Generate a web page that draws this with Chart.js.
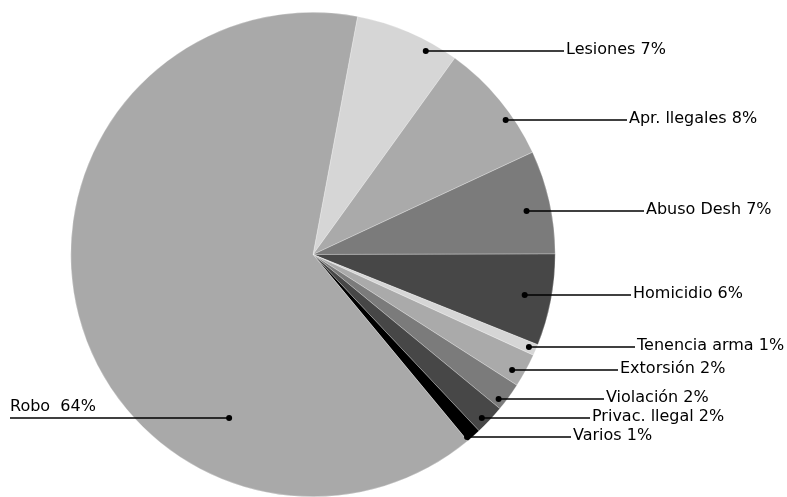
<!DOCTYPE html>
<html>
<head>
<meta charset="utf-8">
<script src="https://cdn.jsdelivr.net/npm/chart.js@4"></script>
<style>
  html, body { margin: 0; padding: 0; background: #fff; }
  #wrap { width: 787px; height: 497px; }
</style>
</head>
<body>
<div id="wrap"><canvas id="pie-chart" width="787" height="497"></canvas></div>
<script>
// data (share of cases, %)
var categories = ['Lesiones', 'Apr. llegales', 'Abuso Desh', 'Homicidio', 'Tenencia arma',
                  'Extorsión', 'Violación', 'Privac. llegal', 'Varios', 'Robo'];
var shares = [7.0, 8.1, 6.9, 6.1, 0.75, 2.25, 1.9, 2.0, 1.0, 63.9];
var shareLabels = ['7%', '8%', '7%', '6%', '1%', '2%', '2%', '2%', '1%', '64%'];

var sliceColors = ['#d6d6d6', '#aaaaaa', '#7b7b7b', '#474747', '#d6d6d6',
                   '#aaaaaa', '#7b7b7b', '#474747', '#000000', '#a9a9a9'];

// where each callout dot sits inside its slice (fraction of the slice angle, fraction of radius)
var dotAngle = [0.73, 0.66, 0.54, 0.5, 0.5, 0.68, 0.75, 0.63, 0.85, 0.29];
var dotRadius = [0.96, 0.97, 0.90, 0.89, 0.97, 0.95, 0.97, 0.97, 0.985, 0.76];
// x where each label text starts (Robo is written on the left)
var labelX = [566, 629, 646, 633, 637, 620, 606, 592, 573, 10];

var FONT = '16px "DejaVu Sans", sans-serif';

var calloutPlugin = {
    id: 'callouts',
    afterDraw: function (chart) {
        var c = chart.ctx;
        var arcs = chart.getDatasetMeta(0).data;
        c.save();
        c.font = FONT;
        c.fillStyle = '#000';
        c.strokeStyle = '#000';
        c.lineWidth = 1.5;
        arcs.forEach(function (arc, i) {
            var p = arc.getProps(['x', 'y', 'startAngle', 'endAngle', 'outerRadius'], true);
            var a = p.startAngle + dotAngle[i] * (p.endAngle - p.startAngle);
            var r = dotRadius[i] * p.outerRadius;
            var dx = p.x + r * Math.cos(a);
            var dy = Math.round(p.y + r * Math.sin(a));
            var text = categories[i] + ' ' + shareLabels[i];

            c.beginPath();
            if (dx > p.x) {
                c.moveTo(dx, dy);
                c.lineTo(labelX[i] - 2, dy);
            } else {
                c.moveTo(labelX[i], dy);
                c.lineTo(dx, dy);
            }
            c.stroke();

            c.beginPath();
            c.arc(dx, dy, 3, 0, Math.PI * 2);
            c.fill();

            if (dx > p.x) {
                c.textBaseline = 'middle';
                c.fillText(text, labelX[i], dy - 1);
            } else {
                c.textBaseline = 'alphabetic';
                c.fillText(categories[i] + '  ' + shareLabels[i], labelX[i], dy - 7);
            }
        });
        c.restore();
    }
};

var ctx = document.getElementById('pie-chart').getContext('2d');
new Chart(ctx, {
    type: 'pie',
    data: {
        labels: categories,
        datasets: [{
            data: shares,
            backgroundColor: sliceColors,
            borderColor: 'rgba(255,255,255,0.45)',
            borderWidth: 0.6
        }]
    },
    options: {
        responsive: false,
        animation: false,
        rotation: 10.6,
        layout: { padding: { top: 12, bottom: 0, left: 70, right: 231 } },
        plugins: {
            legend: { display: false },
            tooltip: { enabled: false }
        }
    },
    plugins: [calloutPlugin]
});
</script>
</body>
</html>
